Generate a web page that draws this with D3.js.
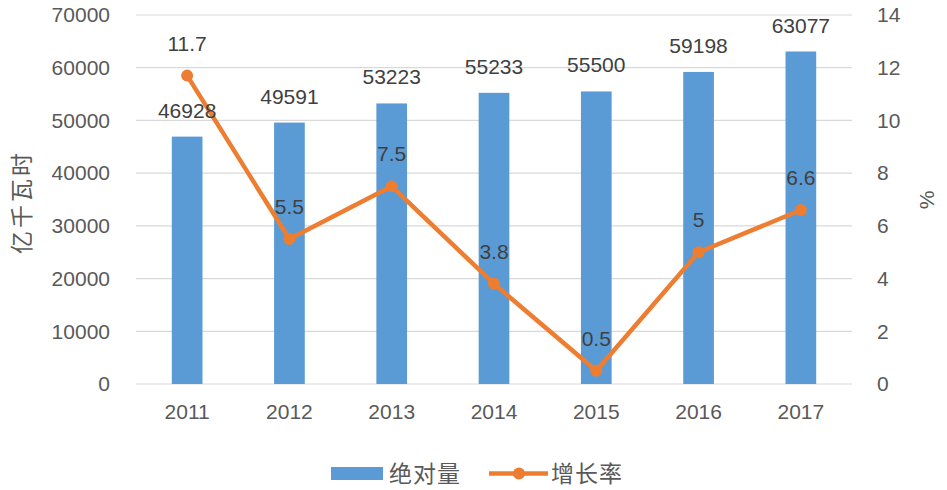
<!DOCTYPE html>
<html>
<head>
<meta charset="utf-8">
<script src="https://cdn.jsdelivr.net/npm/d3@7/dist/d3.min.js"></script>
<style>
  body { margin: 0; background: #fff; }
  text { font-family: "Liberation Sans", "Noto Sans CJK SC", sans-serif; }
</style>
</head>
<body>
<svg id="chart" width="947" height="490"></svg>
<script>
// Chart data
const years = ['2011', '2012', '2013', '2014', '2015', '2016', '2017'];
const amounts = [46928, 49591, 53223, 55233, 55500, 59198, 63077];
const growth = [11.7, 5.5, 7.5, 3.8, 0.5, 5, 6.6];
const leftTicks = [0, 10000, 20000, 30000, 40000, 50000, 60000, 70000];
const rightTicks = [0, 2, 4, 6, 8, 10, 12, 14];

const svg = d3.select('#chart');
const margin = { left: 136, right: 95, top: 15, bottom: 106 };
const width = 947 - margin.left - margin.right;
const height = 490 - margin.top - margin.bottom;

const g = svg.append('g').attr('transform', `translate(${margin.left},${margin.top})`);

const x = d3.scaleBand().domain(years).range([0, width]).paddingInner(0.7).paddingOuter(0.35);
const yL = d3.scaleLinear().domain([0, 70000]).range([height, 0]);
const yR = d3.scaleLinear().domain([0, 14]).range([height, 0]);

// gridlines
g.append('g')
    .selectAll('line')
    .data(leftTicks)
    .enter()
    .append('line')
    .attr('x1', 0)
    .attr('x2', width)
    .attr('y1', d => yL(d))
    .attr('y2', d => yL(d))
    .attr('stroke', '#d9d9d9')
    .attr('stroke-width', 1.2);

// left axis
const leftAxis = g.append('g')
    .call(d3.axisLeft(yL).tickValues(leftTicks).tickFormat(d3.format('d')).tickSize(0).tickPadding(26));
leftAxis.select('.domain').remove();
leftAxis.selectAll('text').attr('font-size', 21).attr('fill', '#595959');

// right axis
const rightAxis = g.append('g')
    .attr('transform', `translate(${width},0)`)
    .call(d3.axisRight(yR).tickValues(rightTicks).tickSize(0).tickPadding(25));
rightAxis.select('.domain').remove();
rightAxis.selectAll('text').attr('font-size', 21).attr('fill', '#595959');

// x axis
const bottomAxis = g.append('g')
    .attr('transform', `translate(0,${height})`)
    .call(d3.axisBottom(x).tickSize(0).tickPadding(20));
bottomAxis.select('.domain').remove();
bottomAxis.selectAll('text').attr('font-size', 21).attr('fill', '#595959');

// bars
g.append('g')
    .selectAll('rect')
    .data(amounts)
    .enter()
    .append('rect')
    .attr('x', (d, i) => x(years[i]))
    .attr('y', d => yL(d))
    .attr('width', x.bandwidth())
    .attr('height', d => height - yL(d))
    .attr('fill', '#5b9bd5');

// growth line
const cx = i => x(years[i]) + x.bandwidth() / 2;
const line = d3.line()
    .x((d, i) => cx(i))
    .y(d => yR(d));

g.append('path')
    .datum(growth)
    .attr('d', line)
    .attr('fill', 'none')
    .attr('stroke', '#ed7d31')
    .attr('stroke-width', 4.5)
    .attr('stroke-linejoin', 'round');

g.append('g')
    .selectAll('circle')
    .data(growth)
    .enter()
    .append('circle')
    .attr('cx', (d, i) => cx(i))
    .attr('cy', d => yR(d))
    .attr('r', 6)
    .attr('fill', '#ed7d31');

// bar labels
g.append('g')
    .selectAll('text')
    .data(amounts)
    .enter()
    .append('text')
    .attr('x', (d, i) => x(years[i]) + x.bandwidth() / 2)
    .attr('y', d => yL(d) - 19)
    .attr('text-anchor', 'middle')
    .attr('font-size', 21)
    .attr('fill', '#404040')
    .text(d => d);

// line labels
g.append('g')
    .selectAll('text')
    .data(growth)
    .enter()
    .append('text')
    .attr('x', (d, i) => cx(i))
    .attr('y', d => yR(d) - 25)
    .attr('text-anchor', 'middle')
    .attr('font-size', 21)
    .attr('fill', '#404040')
    .text(d => d);

// axis titles
svg.append('text')
    .attr('transform', 'translate(30,202) rotate(-90)')
    .attr('text-anchor', 'middle')
    .attr('font-size', 23)
    .attr('letter-spacing', 3)
    .attr('fill', '#595959')
    .attr('font-family', '"Noto Sans CJK SC", sans-serif')
    .text('亿千瓦时');

svg.append('text')
    .attr('transform', 'translate(934,200) rotate(-90)')
    .attr('text-anchor', 'middle')
    .attr('font-size', 21)
    .attr('fill', '#595959')
    .text('%');

// legend
const legend = svg.append('g');
legend.append('rect')
    .attr('x', 331).attr('y', 467)
    .attr('width', 52).attr('height', 13)
    .attr('fill', '#5b9bd5');
legend.append('text')
    .attr('x', 389).attr('y', 482)
    .attr('font-size', 23)
    .attr('letter-spacing', 1)
    .attr('fill', '#595959')
    .attr('font-family', '"Noto Sans CJK SC", sans-serif')
    .text('绝对量');
legend.append('line')
    .attr('x1', 489).attr('x2', 548)
    .attr('y1', 473.5).attr('y2', 473.5)
    .attr('stroke', '#ed7d31')
    .attr('stroke-width', 4.5);
legend.append('circle')
    .attr('cx', 519).attr('cy', 473.5)
    .attr('r', 6)
    .attr('fill', '#ed7d31');
legend.append('text')
    .attr('x', 551).attr('y', 482)
    .attr('font-size', 23)
    .attr('letter-spacing', 1)
    .attr('fill', '#595959')
    .attr('font-family', '"Noto Sans CJK SC", sans-serif')
    .text('增长率');
</script>
</body>
</html>
